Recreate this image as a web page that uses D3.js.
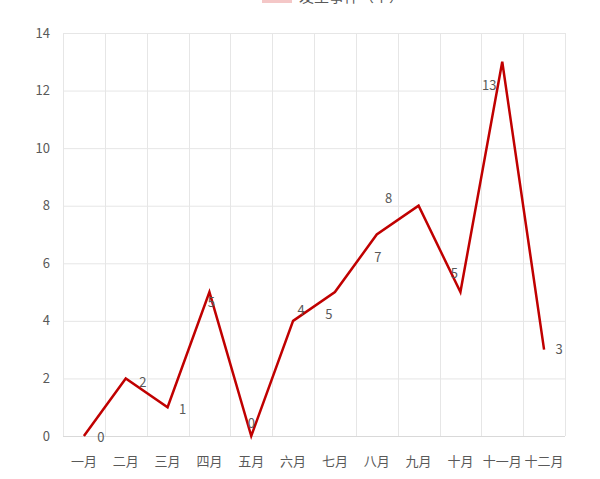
<!DOCTYPE html>
<html><head><meta charset="utf-8">
<script src="https://cdn.jsdelivr.net/npm/d3@7"></script>
<style>
html,body{margin:0;padding:0;background:#fff;}
svg{display:block;font-family:"Noto Sans CJK SC","Microsoft YaHei",sans-serif;}
</style></head>
<body>
<svg id="chart" width="600" height="479"></svg>
<script>
const categories = ["一月","二月","三月","四月","五月","六月","七月","八月","九月","十月","十一月","十二月"];
const values = [0,2,1,5,0,4,5,7,8,5,13,3];
const yTicks = [0,2,4,6,8,10,12,14];
const seriesName = "发生事件（个）";
// label offsets (style, not data)
const labelOffsets = [[17,1],[17,4],[15,2],[2,10],[0,-13],[8,-10],[-6,22],[1,23],[-30,-7],[-6,-19],[-13,24],[15,0]];

const svg = d3.select("#chart");
const m = {left:63, right:565, top:33, bottom:436};
const x = d3.scaleBand().domain(categories).range([m.left, m.right]);
const y = d3.scaleLinear().domain([0,14]).range([m.bottom, m.top]);

// horizontal grid
svg.append("g").selectAll("line").data(yTicks).join("line")
  .attr("x1", m.left).attr("x2", m.right)
  .attr("y1", d=>y(d)+0.5).attr("y2", d=>y(d)+0.5)
  .attr("stroke", d=> d===0 ? "#d9d9d9" : "#e6e6e6").attr("stroke-width",1);
// vertical grid
const bounds = categories.map(c=>x(c)).concat([m.right]);
svg.append("g").selectAll("line").data(bounds).join("line")
  .attr("x1", d=>Math.round(d)+0.5).attr("x2", d=>Math.round(d)+0.5)
  .attr("y1", m.top).attr("y2", m.bottom)
  .attr("stroke","#e6e6e6").attr("stroke-width",1);

// y labels
svg.append("g").selectAll("text").data(yTicks).join("text")
  .attr("x", 50).attr("y", d=>y(d)).attr("dy","0.35em")
  .attr("text-anchor","end").attr("font-size",13).attr("fill","#595959")
  .text(d=>d);
// x labels
svg.append("g").selectAll("text").data(categories).join("text")
  .attr("x", d=>x(d)+x.bandwidth()/2).attr("y", 461).attr("dy","0.35em")
  .attr("text-anchor","middle").attr("font-size",13).attr("fill","#595959")
  .text(d=>d);

// line
const line = d3.line().x((d,i)=>x(categories[i])+x.bandwidth()/2).y(d=>y(d));
svg.append("path").datum(values).attr("d", line)
  .attr("fill","none").attr("stroke","#c00000").attr("stroke-width",2.5)
  .attr("stroke-linejoin","miter");

// data labels
svg.append("g").selectAll("text").data(values).join("text")
  .attr("x", (d,i)=>x(categories[i])+x.bandwidth()/2+labelOffsets[i][0])
  .attr("y", (d,i)=>y(d)+labelOffsets[i][1]).attr("dy","0.35em")
  .attr("text-anchor","middle").attr("font-size",13).attr("fill","#595959")
  .text(d=>d);

// legend (partially cut at top)
svg.append("rect").attr("x",262).attr("y",-3).attr("width",30).attr("height",6)
  .attr("fill","#f4c7c7");
svg.append("text").attr("x",299).attr("y",2).attr("font-size",15).attr("fill","#595959")
  .text(seriesName);
</script>
</body></html>
